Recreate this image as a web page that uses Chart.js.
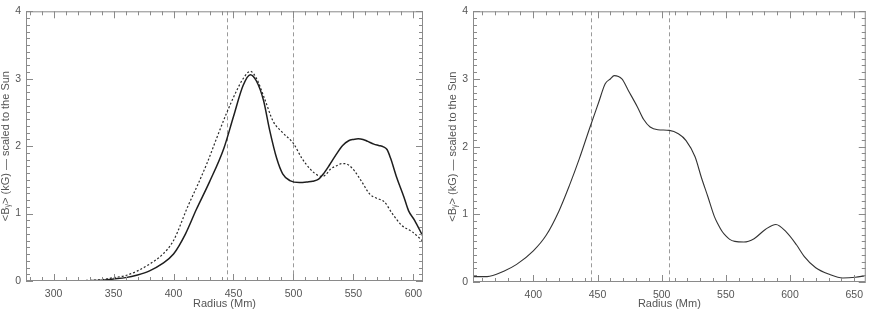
<!DOCTYPE html>
<html>
<head>
<meta charset="utf-8">
<script src="https://cdn.jsdelivr.net/npm/chart.js@4.4.1/dist/chart.umd.min.js"></script>
<style>
  html, body { margin: 0; padding: 0; background: #fff; }
  #wrap { position: relative; width: 870px; height: 312px; }
  canvas { position: absolute; top: 0; }
</style>
</head>
<body>
<div id="wrap">
  <canvas id="left" width="435" height="312" style="left:0"></canvas>
  <canvas id="right" width="435" height="312" style="left:435px"></canvas>
</div>
<script>
// Left panel: two profiles (solid and dotted)
const leftRadius = [277, 290, 300, 310, 320, 330, 340, 350, 360, 370, 380, 390, 400, 410, 419, 430, 442, 450, 458, 464, 469, 475, 480, 486, 491, 497, 505, 512, 516, 521, 525, 530, 535, 541, 546, 550, 554, 558, 562, 567, 571, 575, 578, 581, 586, 592, 596, 601, 608];
const leftSolid = [0, 0, 0, 0, 0.003, 0.005, 0.01, 0.03, 0.05, 0.09, 0.15, 0.25, 0.40, 0.70, 1.06, 1.47, 1.97, 2.44, 2.90, 3.06, 2.97, 2.68, 2.25, 1.82, 1.59, 1.49, 1.46, 1.47, 1.48, 1.51, 1.59, 1.72, 1.86, 2.01, 2.08, 2.10, 2.11, 2.10, 2.07, 2.03, 2.01, 1.99, 1.95, 1.82, 1.54, 1.25, 1.04, 0.90, 0.66];

const dottedRadius = [277, 300, 320, 330, 340, 350, 360, 370, 380, 390, 400, 412, 420, 428, 436, 444, 452, 458, 464, 469, 476, 483, 491, 500, 507, 514, 520, 524, 527, 531, 536, 540, 543, 546, 551, 557, 564, 569, 576, 582, 590, 599, 608];
const leftDotted = [0, 0, 0.005, 0.01, 0.02, 0.05, 0.08, 0.15, 0.25, 0.38, 0.60, 1.11, 1.42, 1.75, 2.12, 2.48, 2.80, 3.00, 3.11, 3.01, 2.70, 2.37, 2.20, 2.04, 1.82, 1.66, 1.57, 1.55, 1.58, 1.66, 1.71, 1.74, 1.74, 1.72, 1.63, 1.47, 1.28, 1.23, 1.17, 1.01, 0.83, 0.73, 0.59];

// Right panel: single profile
const rightRadius = [353, 364, 377, 387, 400, 410, 420, 428, 436, 444, 451, 456, 460, 463, 469, 474, 481, 486, 491, 497, 506, 513, 519, 526, 531, 536, 541, 544, 547, 550, 553, 557, 564, 572, 581, 589, 597, 605, 611, 620, 631, 641, 651, 658];
const rightValues = [0.08, 0.08, 0.16, 0.26, 0.46, 0.69, 1.05, 1.42, 1.83, 2.28, 2.66, 2.93, 3.0, 3.05, 3.0, 2.83, 2.59, 2.40, 2.29, 2.25, 2.24, 2.19, 2.09, 1.85, 1.54, 1.26, 0.97, 0.85, 0.75, 0.68, 0.63, 0.60, 0.59, 0.64, 0.78, 0.85, 0.74, 0.55, 0.38, 0.21, 0.11, 0.06, 0.07, 0.09];

const leftMarkers = [445, 500];
const rightMarkers = [445, 506];
const yTicks = [0, 1, 2, 3, 4];

const FONT = '"Liberation Sans", "DejaVu Sans", sans-serif';
const TEXT = '#555';
const yTitle = '<B\u1D67> (kG) \u2014 scaled to the Sun';

function pts(xs, ys) {
    return xs.map((x, i) => ({ x: x, y: ys[i] }));
}

// IDL-style box: dashed markers behind, inward ticks on all four sides
const frame = {
    id: 'frame',
    beforeDatasetsDraw(chart, args, opts) {
        const { ctx, chartArea: a, scales: { x } } = chart;
        ctx.save();
        ctx.strokeStyle = '#9a9a9a';
        ctx.lineWidth = 1;
        ctx.setLineDash([4, 3]);
        opts.markers.forEach(m => {
            const px = Math.round(x.getPixelForValue(m)) + 0.5;
            ctx.beginPath();
            ctx.moveTo(px, a.top);
            ctx.lineTo(px, a.bottom);
            ctx.stroke();
        });
        ctx.restore();
    },
    afterDatasetsDraw(chart) {
        const { ctx, chartArea: a, scales: { x, y } } = chart;
        ctx.save();
        ctx.strokeStyle = '#8a8a8a';
        ctx.lineWidth = 1;
        ctx.strokeRect(a.left + 0.5, a.top + 0.5, a.width - 1, a.height - 1);
        ctx.beginPath();
        for (let v = Math.ceil(x.min / 10) * 10; v <= x.max; v += 10) {
            const px = Math.round(x.getPixelForValue(v)) + 0.5;
            const len = v % 50 === 0 ? 7 : 4;
            ctx.moveTo(px, a.bottom); ctx.lineTo(px, a.bottom - len);
            ctx.moveTo(px, a.top); ctx.lineTo(px, a.top + len);
        }
        for (let i = 0; i <= 40; i++) {
            const py = Math.round(y.getPixelForValue(i / 10)) + 0.5;
            const len = i % 10 === 0 ? 7 : 4;
            ctx.moveTo(a.left, py); ctx.lineTo(a.left + len, py);
            ctx.moveTo(a.right, py); ctx.lineTo(a.right - len, py);
        }
        ctx.stroke();
        ctx.restore();
    }
};

function makeOptions(xMin, xMax, padding, xHeight, markers) {
    return {
        responsive: false,
        animation: false,
        layout: { padding: padding },
        plugins: {
            legend: { display: false },
            tooltip: { enabled: false },
            frame: { markers: markers }
        },
        elements: { point: { radius: 0 }, line: { cubicInterpolationMode: 'monotone' } },
        scales: {
            x: {
                type: 'linear', min: xMin, max: xMax,
                grid: { display: false, drawTicks: false },
                border: { display: false },
                ticks: { stepSize: 50, includeBounds: false, maxRotation: 0, padding: 7, color: TEXT, font: { family: FONT, size: 10.5 } },
                title: { display: true, text: 'Radius (Mm)', color: TEXT, font: { family: FONT, size: 11, lineHeight: 1 }, padding: { top: 0, bottom: 3 } },
                afterFit: s => { s.height = xHeight; }
            },
            y: {
                min: 0, max: 4,
                grid: { display: false, drawTicks: false },
                border: { display: false },
                afterBuildTicks: s => { s.ticks = yTicks.map(v => ({ value: v })); },
                ticks: { padding: 5, color: TEXT, font: { family: FONT, size: 10.5 } },
                title: { display: true, text: yTitle, color: TEXT, font: { family: FONT, size: 11, lineHeight: 1 }, padding: { top: 0, bottom: 0 } },
                afterFit: s => { s.width = 26; }
            }
        }
    };
}

new Chart(document.getElementById('left'), {
    type: 'line',
    data: {
        datasets: [
            { data: pts(leftRadius, leftSolid), borderColor: '#1e1e1e', borderWidth: 1.5, fill: false },
            { data: pts(dottedRadius, leftDotted), borderColor: '#2a2a2a', borderWidth: 1.2, borderDash: [2, 2], fill: false }
        ]
    },
    options: makeOptions(277, 608, { top: 1, right: 12, left: 0, bottom: 0 }, 31, leftMarkers),
    plugins: [frame]
});

new Chart(document.getElementById('right'), {
    type: 'line',
    data: {
        datasets: [
            { data: pts(rightRadius, rightValues), borderColor: '#333', borderWidth: 1.1, fill: false }
        ]
    },
    options: makeOptions(353, 659, { top: 1, right: 1, left: 12, bottom: 0 }, 30, rightMarkers),
    plugins: [frame]
});
</script>
</body>
</html>
